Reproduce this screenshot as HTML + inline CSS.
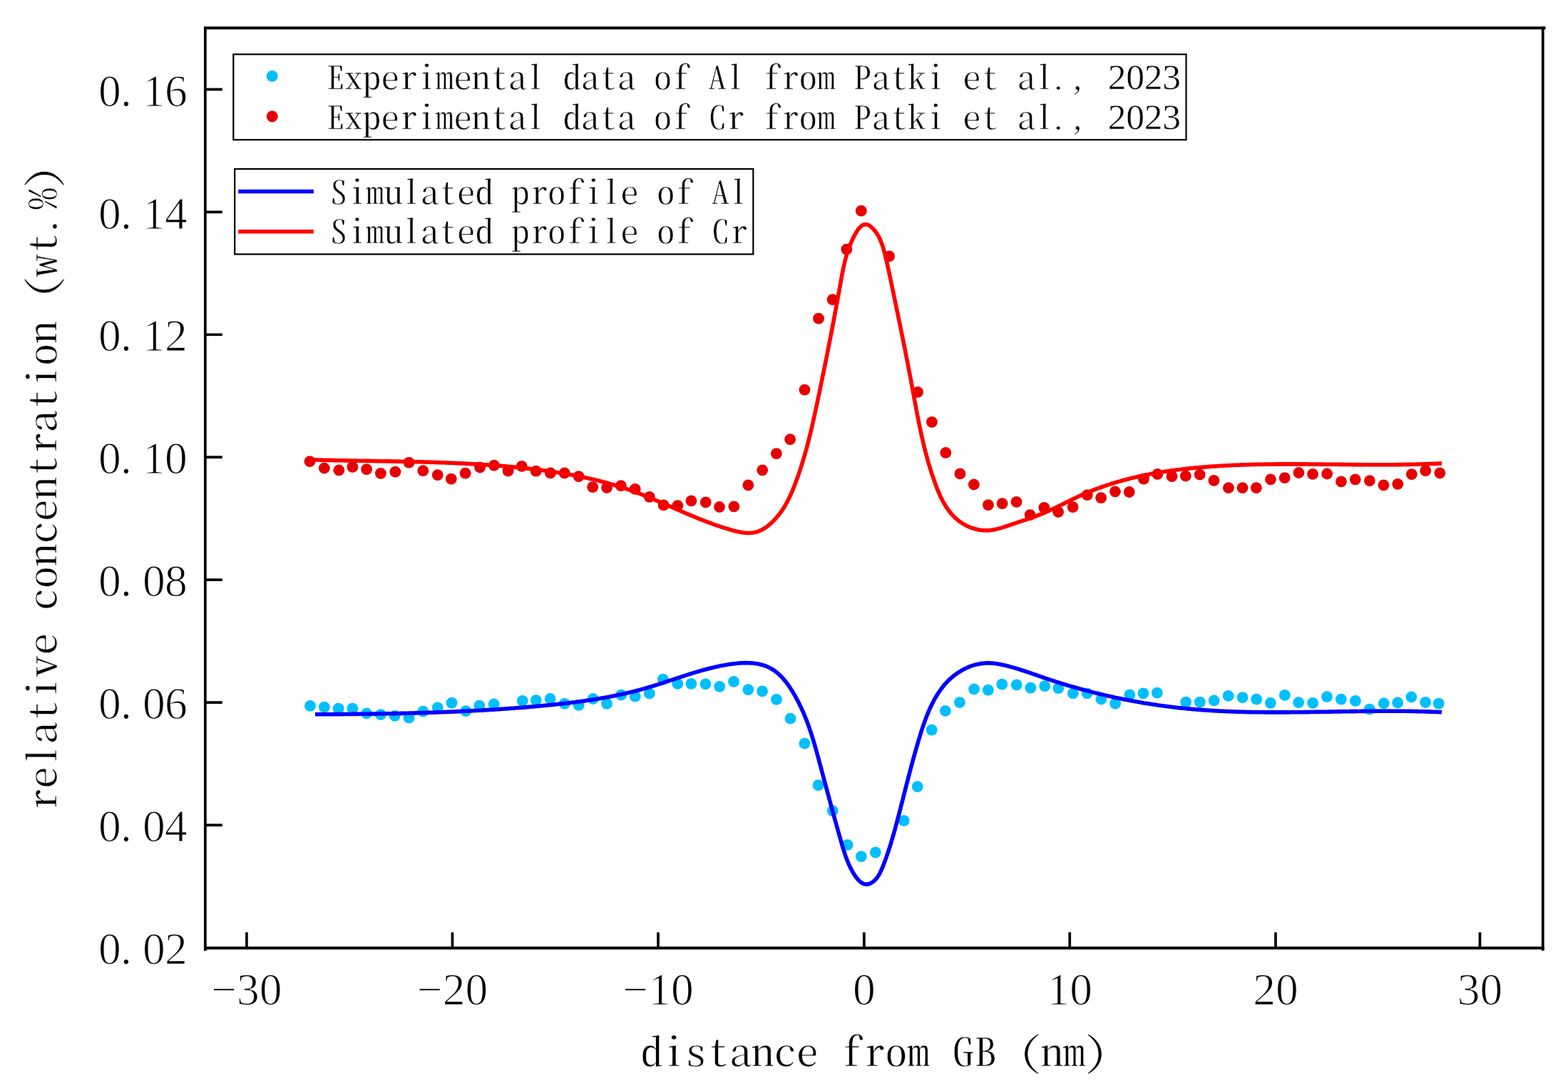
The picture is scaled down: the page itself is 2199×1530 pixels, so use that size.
<!DOCTYPE html><html><head><meta charset="utf-8"><title>relative concentration vs distance from GB</title><style>html,body{margin:0;padding:0;background:#fff;overflow:hidden}svg{display:block}.cj{font-family:"Noto Serif CJK SC","Liberation Serif",serif;font-feature-settings:"hwid" 1;}.ls{font-family:"Liberation Serif","Noto Serif CJK SC",serif;}.er{stroke:#fff;stroke-width:1.2px;}.er2{stroke:#fff;stroke-width:0.5px;}</style></head><body>
<svg width="2199" height="1530" viewBox="0 0 2199 1530">
<rect width="2199" height="1530" fill="#fff"/>
<g fill="#e60000"><circle cx="434.5" cy="647.2" r="7.9"/><circle cx="454.8" cy="656.5" r="7.9"/><circle cx="475.3" cy="659.3" r="7.9"/><circle cx="494.4" cy="654.8" r="7.9"/><circle cx="514.1" cy="658.2" r="7.9"/><circle cx="533.9" cy="663.9" r="7.9"/><circle cx="554.4" cy="661.6" r="7.9"/><circle cx="573.5" cy="648.6" r="7.9"/><circle cx="593.3" cy="660.2" r="7.9"/><circle cx="613.7" cy="666.1" r="7.9"/><circle cx="632.8" cy="671.6" r="7.9"/><circle cx="652.6" cy="663.7" r="7.9"/><circle cx="673.1" cy="655.5" r="7.9"/><circle cx="692.9" cy="652.7" r="7.9"/><circle cx="712.6" cy="660.5" r="7.9"/><circle cx="731.7" cy="653.9" r="7.9"/><circle cx="751.6" cy="660.7" r="7.9"/><circle cx="771.9" cy="663.4" r="7.9"/><circle cx="791.7" cy="663.4" r="7.9"/><circle cx="811.6" cy="668.2" r="7.9"/><circle cx="831.2" cy="683.2" r="7.9"/><circle cx="851.0" cy="683.9" r="7.9"/><circle cx="870.8" cy="681.2" r="7.9"/><circle cx="890.7" cy="685.9" r="7.9"/><circle cx="910.8" cy="696.8" r="7.9"/><circle cx="930.6" cy="708.4" r="7.9"/><circle cx="950.3" cy="709.1" r="7.9"/><circle cx="969.4" cy="702.3" r="7.9"/><circle cx="989.7" cy="704.4" r="7.9"/><circle cx="1009.0" cy="711.0" r="7.9"/><circle cx="1029.3" cy="710.3" r="7.9"/><circle cx="1049.3" cy="680.3" r="7.9"/><circle cx="1069.2" cy="659.3" r="7.9"/><circle cx="1088.8" cy="636.2" r="7.9"/><circle cx="1108.1" cy="616.2" r="7.9"/><circle cx="1128.4" cy="546.7" r="7.9"/><circle cx="1148.0" cy="446.7" r="7.9"/><circle cx="1167.6" cy="420.2" r="7.9"/><circle cx="1187.3" cy="349.6" r="7.9"/><circle cx="1207.8" cy="295.7" r="7.9"/><circle cx="1247.1" cy="359.4" r="7.9"/><circle cx="1287.0" cy="549.8" r="7.9"/><circle cx="1306.9" cy="591.8" r="7.9"/><circle cx="1326.3" cy="634.9" r="7.9"/><circle cx="1346.4" cy="664.4" r="7.9"/><circle cx="1365.8" cy="679.5" r="7.9"/><circle cx="1385.9" cy="708.2" r="7.9"/><circle cx="1405.6" cy="706.1" r="7.9"/><circle cx="1425.5" cy="703.8" r="7.9"/><circle cx="1444.6" cy="722.1" r="7.9"/><circle cx="1464.3" cy="711.9" r="7.9"/><circle cx="1484.1" cy="718.0" r="7.9"/><circle cx="1504.6" cy="711.2" r="7.9"/><circle cx="1524.8" cy="694.1" r="7.9"/><circle cx="1544.1" cy="698.2" r="7.9"/><circle cx="1563.9" cy="689.3" r="7.9"/><circle cx="1583.7" cy="690.0" r="7.9"/><circle cx="1603.9" cy="671.6" r="7.9"/><circle cx="1623.3" cy="664.8" r="7.9"/><circle cx="1643.5" cy="668.2" r="7.9"/><circle cx="1662.8" cy="667.5" r="7.9"/><circle cx="1682.6" cy="665.5" r="7.9"/><circle cx="1702.4" cy="673.9" r="7.9"/><circle cx="1722.9" cy="684.2" r="7.9"/><circle cx="1742.5" cy="684.2" r="7.9"/><circle cx="1761.8" cy="684.2" r="7.9"/><circle cx="1781.9" cy="672.3" r="7.9"/><circle cx="1801.7" cy="670.2" r="7.9"/><circle cx="1821.4" cy="663.0" r="7.9"/><circle cx="1841.0" cy="664.8" r="7.9"/><circle cx="1861.1" cy="664.5" r="7.9"/><circle cx="1880.9" cy="675.3" r="7.9"/><circle cx="1900.7" cy="672.3" r="7.9"/><circle cx="1920.8" cy="674.1" r="7.9"/><circle cx="1940.4" cy="680.3" r="7.9"/><circle cx="1960.2" cy="678.8" r="7.9"/><circle cx="1979.8" cy="665.1" r="7.9"/><circle cx="1999.2" cy="660.2" r="7.9"/><circle cx="2019.3" cy="663.3" r="7.9"/></g>
<g fill="#00bfff"><circle cx="435.0" cy="989.8" r="7.9"/><circle cx="454.8" cy="991.6" r="7.9"/><circle cx="474.6" cy="993.7" r="7.9"/><circle cx="494.4" cy="993.7" r="7.9"/><circle cx="514.1" cy="1000.5" r="7.9"/><circle cx="533.9" cy="1002.1" r="7.9"/><circle cx="553.7" cy="1003.9" r="7.9"/><circle cx="573.5" cy="1006.6" r="7.9"/><circle cx="593.3" cy="997.7" r="7.9"/><circle cx="613.7" cy="992.3" r="7.9"/><circle cx="633.5" cy="985.7" r="7.9"/><circle cx="653.3" cy="997.1" r="7.9"/><circle cx="672.4" cy="989.6" r="7.9"/><circle cx="692.6" cy="987.5" r="7.9"/><circle cx="732.7" cy="982.8" r="7.9"/><circle cx="751.8" cy="982.1" r="7.9"/><circle cx="771.6" cy="980.0" r="7.9"/><circle cx="791.7" cy="986.8" r="7.9"/><circle cx="811.6" cy="988.9" r="7.9"/><circle cx="831.7" cy="980.0" r="7.9"/><circle cx="851.0" cy="986.8" r="7.9"/><circle cx="871.2" cy="974.6" r="7.9"/><circle cx="890.7" cy="976.6" r="7.9"/><circle cx="910.8" cy="972.5" r="7.9"/><circle cx="929.9" cy="952.7" r="7.9"/><circle cx="950.3" cy="958.9" r="7.9"/><circle cx="969.4" cy="958.9" r="7.9"/><circle cx="989.5" cy="959.3" r="7.9"/><circle cx="1009.2" cy="962.8" r="7.9"/><circle cx="1029.0" cy="955.9" r="7.9"/><circle cx="1049.3" cy="967.1" r="7.9"/><circle cx="1069.1" cy="969.3" r="7.9"/><circle cx="1089.0" cy="980.8" r="7.9"/><circle cx="1108.5" cy="1007.7" r="7.9"/><circle cx="1128.4" cy="1042.6" r="7.9"/><circle cx="1147.5" cy="1101.2" r="7.9"/><circle cx="1167.7" cy="1137.1" r="7.9"/><circle cx="1188.6" cy="1184.8" r="7.9"/><circle cx="1207.8" cy="1201.2" r="7.9"/><circle cx="1227.8" cy="1195.3" r="7.9"/><circle cx="1267.7" cy="1150.8" r="7.9"/><circle cx="1286.7" cy="1103.1" r="7.9"/><circle cx="1306.6" cy="1023.6" r="7.9"/><circle cx="1325.8" cy="996.9" r="7.9"/><circle cx="1345.9" cy="985.1" r="7.9"/><circle cx="1366.1" cy="966.5" r="7.9"/><circle cx="1385.8" cy="967.7" r="7.9"/><circle cx="1405.2" cy="959.7" r="7.9"/><circle cx="1425.7" cy="960.3" r="7.9"/><circle cx="1445.3" cy="964.7" r="7.9"/><circle cx="1465.2" cy="962.1" r="7.9"/><circle cx="1484.3" cy="965.2" r="7.9"/><circle cx="1504.8" cy="972.3" r="7.9"/><circle cx="1524.6" cy="972.3" r="7.9"/><circle cx="1544.4" cy="980.5" r="7.9"/><circle cx="1564.1" cy="986.6" r="7.9"/><circle cx="1584.3" cy="974.3" r="7.9"/><circle cx="1603.4" cy="972.3" r="7.9"/><circle cx="1622.8" cy="971.6" r="7.9"/><circle cx="1663.1" cy="984.6" r="7.9"/><circle cx="1682.8" cy="984.6" r="7.9"/><circle cx="1702.6" cy="982.5" r="7.9"/><circle cx="1722.6" cy="975.9" r="7.9"/><circle cx="1742.6" cy="978.1" r="7.9"/><circle cx="1762.2" cy="980.7" r="7.9"/><circle cx="1781.8" cy="985.8" r="7.9"/><circle cx="1801.8" cy="974.9" r="7.9"/><circle cx="1821.1" cy="985.1" r="7.9"/><circle cx="1841.1" cy="985.8" r="7.9"/><circle cx="1860.9" cy="977.1" r="7.9"/><circle cx="1880.8" cy="980.7" r="7.9"/><circle cx="1900.9" cy="982.9" r="7.9"/><circle cx="1920.8" cy="994.6" r="7.9"/><circle cx="1940.7" cy="986.3" r="7.9"/><circle cx="1960.1" cy="985.4" r="7.9"/><circle cx="1979.3" cy="977.5" r="7.9"/><circle cx="1999.1" cy="984.8" r="7.9"/><circle cx="2017.6" cy="986.6" r="7.9"/></g>
<path d="M440.9,644.9 L442.9,644.9 L445.0,645.0 L447.0,645.0 L449.0,645.1 L451.0,645.1 L453.0,645.2 L455.0,645.2 L457.0,645.3 L459.0,645.3 L461.0,645.4 L463.0,645.4 L465.0,645.5 L467.0,645.5 L469.0,645.6 L471.0,645.6 L473.0,645.7 L475.0,645.7 L477.0,645.7 L479.1,645.8 L481.1,645.8 L483.1,645.9 L485.1,645.9 L487.1,645.9 L489.1,646.0 L491.1,646.0 L493.1,646.0 L495.1,646.1 L497.1,646.1 L499.1,646.1 L501.1,646.2 L503.1,646.2 L505.1,646.2 L507.1,646.3 L509.1,646.3 L511.1,646.3 L513.1,646.4 L515.1,646.4 L517.1,646.4 L519.1,646.5 L521.1,646.5 L523.1,646.5 L525.1,646.6 L527.1,646.6 L529.1,646.6 L531.1,646.7 L533.1,646.7 L535.1,646.7 L537.1,646.8 L539.2,646.8 L541.2,646.8 L543.2,646.9 L545.2,646.9 L547.2,646.9 L549.2,647.0 L551.2,647.0 L553.2,647.0 L555.2,647.1 L557.2,647.1 L559.2,647.1 L561.2,647.2 L563.2,647.2 L565.2,647.3 L567.2,647.3 L569.2,647.3 L571.2,647.4 L573.2,647.4 L575.2,647.5 L577.2,647.5 L579.2,647.6 L581.2,647.6 L583.2,647.7 L585.2,647.7 L587.2,647.7 L589.2,647.8 L591.2,647.8 L593.2,647.9 L595.2,648.0 L597.2,648.0 L599.2,648.1 L601.2,648.1 L603.2,648.2 L605.2,648.2 L607.2,648.3 L609.2,648.4 L611.2,648.4 L613.2,648.5 L615.2,648.6 L617.2,648.6 L619.2,648.7 L621.2,648.8 L623.1,648.8 L625.1,648.9 L627.1,649.0 L629.1,649.1 L631.1,649.1 L633.1,649.2 L635.1,649.3 L637.1,649.4 L639.1,649.5 L641.1,649.6 L643.1,649.7 L645.1,649.8 L647.1,649.8 L649.1,649.9 L651.1,650.0 L653.1,650.1 L655.1,650.2 L657.1,650.3 L659.1,650.5 L661.1,650.6 L663.1,650.7 L665.1,650.8 L667.1,650.9 L669.1,651.0 L671.1,651.1 L673.1,651.3 L675.1,651.4 L677.1,651.5 L679.1,651.7 L681.1,651.8 L683.1,651.9 L685.1,652.1 L687.0,652.2 L689.0,652.3 L691.0,652.5 L693.0,652.6 L695.0,652.8 L697.0,652.9 L699.0,653.1 L701.0,653.3 L703.0,653.4 L705.0,653.6 L707.0,653.8 L709.0,653.9 L711.0,654.1 L713.0,654.3 L715.0,654.5 L717.0,654.6 L719.0,654.8 L721.0,655.0 L723.0,655.2 L725.0,655.4 L726.9,655.6 L728.9,655.8 L730.9,656.0 L732.9,656.2 L734.9,656.4 L736.9,656.7 L738.9,656.9 L740.9,657.1 L742.9,657.3 L744.9,657.6 L746.9,657.8 L748.9,658.0 L750.9,658.3 L752.9,658.5 L754.9,658.8 L756.9,659.0 L758.8,659.3 L760.8,659.6 L762.8,659.8 L764.8,660.1 L766.8,660.4 L768.8,660.6 L770.8,660.9 L772.8,661.2 L774.8,661.5 L776.7,661.8 L778.7,662.1 L780.7,662.4 L782.7,662.7 L784.7,663.0 L786.7,663.4 L788.6,663.7 L790.6,664.0 L792.6,664.4 L794.6,664.7 L796.6,665.1 L798.5,665.4 L800.5,665.8 L802.5,666.1 L804.5,666.5 L806.4,666.9 L808.4,667.3 L810.4,667.7 L812.3,668.0 L814.3,668.4 L816.3,668.9 L818.2,669.3 L820.2,669.7 L822.1,670.1 L824.1,670.5 L826.0,671.0 L828.0,671.4 L829.9,671.9 L831.9,672.3 L833.8,672.8 L835.8,673.3 L837.7,673.7 L839.7,674.2 L841.6,674.7 L843.5,675.2 L845.5,675.7 L847.4,676.2 L849.3,676.7 L851.3,677.3 L853.2,677.8 L855.1,678.3 L857.0,678.9 L859.0,679.4 L860.9,680.0 L862.8,680.6 L864.7,681.2 L866.6,681.7 L868.5,682.3 L870.4,682.9 L872.3,683.5 L874.2,684.2 L876.1,684.8 L878.0,685.4 L879.9,686.1 L881.8,686.7 L883.6,687.4 L885.5,688.0 L887.4,688.7 L889.3,689.4 L891.1,690.1 L893.0,690.8 L894.9,691.5 L896.7,692.2 L898.6,692.9 L900.5,693.7 L902.3,694.4 L904.2,695.1 L906.0,695.9 L907.9,696.6 L909.7,697.4 L911.6,698.1 L913.4,698.9 L915.2,699.7 L917.1,700.4 L918.9,701.2 L920.8,702.0 L922.6,702.8 L924.4,703.6 L926.3,704.4 L928.1,705.1 L930.0,705.9 L931.8,706.7 L933.6,707.5 L935.5,708.3 L937.3,709.1 L939.1,709.9 L941.0,710.7 L942.8,711.5 L944.6,712.3 L946.5,713.1 L948.3,713.9 L950.1,714.7 L952.0,715.5 L953.8,716.3 L955.7,717.1 L957.5,717.9 L959.3,718.7 L961.2,719.5 L963.0,720.3 L964.9,721.1 L966.7,721.9 L968.6,722.6 L970.4,723.4 L972.3,724.2 L974.1,724.9 L976.0,725.7 L977.8,726.5 L979.7,727.2 L981.5,728.0 L983.4,728.7 L985.3,729.4 L987.1,730.2 L989.0,730.9 L990.9,731.6 L992.8,732.3 L994.7,733.0 L996.5,733.7 L998.4,734.4 L1000.3,735.1 L1002.2,735.8 L1004.1,736.4 L1006.0,737.1 L1007.9,737.7 L1009.8,738.4 L1011.7,739.0 L1013.6,739.6 L1015.6,740.2 L1017.5,740.8 L1019.4,741.4 L1021.4,742.0 L1023.3,742.5 L1025.2,743.1 L1027.2,743.6 L1029.1,744.2 L1031.1,744.7 L1033.1,745.2 L1035.0,745.6 L1037.0,746.0 L1038.9,746.4 L1040.9,746.7 L1042.8,747.0 L1044.8,747.2 L1046.7,747.4 L1048.7,747.5 L1050.6,747.5 L1052.5,747.4 L1054.4,747.3 L1056.3,747.0 L1058.2,746.7 L1060.1,746.3 L1062.0,745.7 L1063.8,745.1 L1065.6,744.3 L1067.4,743.5 L1069.2,742.6 L1071.0,741.5 L1072.7,740.4 L1074.5,739.3 L1076.1,738.0 L1077.8,736.8 L1079.4,735.4 L1081.0,734.0 L1082.5,732.6 L1084.0,731.2 L1085.5,729.7 L1086.9,728.2 L1088.3,726.7 L1089.6,725.2 L1090.9,723.6 L1092.2,722.0 L1093.4,720.5 L1094.6,718.8 L1095.8,717.2 L1096.9,715.6 L1098.0,713.9 L1099.1,712.2 L1100.2,710.5 L1101.2,708.8 L1102.2,707.1 L1103.1,705.3 L1104.1,703.6 L1105.0,701.8 L1105.9,700.0 L1106.8,698.2 L1107.6,696.4 L1108.5,694.6 L1109.3,692.8 L1110.1,691.0 L1110.9,689.2 L1111.7,687.3 L1112.4,685.5 L1113.2,683.6 L1113.9,681.8 L1114.6,679.9 L1115.3,678.1 L1116.0,676.2 L1116.7,674.3 L1117.4,672.4 L1118.1,670.6 L1118.8,668.7 L1119.4,666.8 L1120.1,664.9 L1120.7,663.0 L1121.4,661.2 L1122.0,659.3 L1122.6,657.4 L1123.2,655.5 L1123.8,653.6 L1124.4,651.7 L1125.0,649.8 L1125.6,647.9 L1126.2,645.9 L1126.8,644.0 L1127.3,642.1 L1127.9,640.2 L1128.5,638.3 L1129.0,636.4 L1129.5,634.4 L1130.1,632.5 L1130.6,630.6 L1131.1,628.7 L1131.7,626.7 L1132.2,624.8 L1132.7,622.9 L1133.2,620.9 L1133.7,619.0 L1134.2,617.1 L1134.7,615.1 L1135.1,613.2 L1135.6,611.2 L1136.1,609.3 L1136.6,607.3 L1137.0,605.4 L1137.5,603.5 L1138.0,601.5 L1138.4,599.6 L1138.9,597.6 L1139.3,595.6 L1139.8,593.7 L1140.2,591.7 L1140.6,589.8 L1141.1,587.8 L1141.5,585.9 L1142.0,583.9 L1142.4,582.0 L1142.8,580.0 L1143.2,578.0 L1143.7,576.1 L1144.1,574.1 L1144.5,572.2 L1144.9,570.2 L1145.3,568.2 L1145.8,566.3 L1146.2,564.3 L1146.6,562.3 L1147.0,560.4 L1147.4,558.4 L1147.8,556.5 L1148.3,554.5 L1148.7,552.5 L1149.1,550.6 L1149.5,548.6 L1149.9,546.6 L1150.3,544.7 L1150.7,542.7 L1151.1,540.8 L1151.5,538.8 L1151.9,536.8 L1152.3,534.9 L1152.7,532.9 L1153.1,530.9 L1153.5,529.0 L1153.9,527.0 L1154.3,525.0 L1154.7,523.1 L1155.1,521.1 L1155.5,519.1 L1155.9,517.2 L1156.3,515.2 L1156.7,513.3 L1157.1,511.3 L1157.5,509.3 L1157.9,507.4 L1158.3,505.4 L1158.7,503.4 L1159.1,501.5 L1159.5,499.5 L1159.9,497.5 L1160.3,495.6 L1160.6,493.6 L1161.0,491.6 L1161.4,489.7 L1161.8,487.7 L1162.2,485.8 L1162.6,483.8 L1163.0,481.8 L1163.3,479.9 L1163.7,477.9 L1164.1,475.9 L1164.5,474.0 L1164.9,472.0 L1165.2,470.0 L1165.6,468.1 L1166.0,466.1 L1166.4,464.2 L1166.8,462.2 L1167.1,460.2 L1167.5,458.3 L1167.9,456.3 L1168.2,454.3 L1168.6,452.4 L1169.0,450.4 L1169.4,448.4 L1169.7,446.5 L1170.1,444.5 L1170.5,442.6 L1170.8,440.6 L1171.2,438.6 L1171.6,436.7 L1171.9,434.7 L1172.3,432.8 L1172.7,430.8 L1173.0,428.8 L1173.4,426.9 L1173.7,424.9 L1174.1,422.9 L1174.5,421.0 L1174.8,419.0 L1175.2,417.1 L1175.5,415.1 L1175.9,413.1 L1176.2,411.2 L1176.6,409.2 L1176.9,407.3 L1177.3,405.3 L1177.7,403.3 L1178.0,401.4 L1178.4,399.4 L1178.7,397.5 L1179.1,395.5 L1179.4,393.6 L1179.8,391.6 L1180.1,389.6 L1180.5,387.7 L1180.8,385.7 L1181.2,383.8 L1181.6,381.8 L1182.0,379.9 L1182.4,377.9 L1182.8,376.0 L1183.2,374.0 L1183.6,372.0 L1184.1,370.1 L1184.5,368.1 L1185.0,366.2 L1185.5,364.2 L1186.0,362.3 L1186.6,360.3 L1187.1,358.4 L1187.7,356.4 L1188.3,354.5 L1188.9,352.5 L1189.6,350.6 L1190.3,348.7 L1191.0,346.7 L1191.7,344.8 L1192.5,342.8 L1193.3,340.9 L1194.1,338.9 L1195.0,337.0 L1195.9,335.1 L1196.8,333.1 L1197.8,331.2 L1198.8,329.3 L1199.9,327.4 L1200.9,325.5 L1202.1,323.8 L1203.2,322.1 L1204.4,320.6 L1205.6,319.2 L1206.9,317.9 L1208.2,316.8 L1209.5,316.0 L1210.9,315.3 L1212.2,314.9 L1213.7,314.7 L1215.1,314.8 L1216.6,315.1 L1218.1,315.8 L1219.6,316.6 L1221.1,317.7 L1222.5,318.9 L1224.0,320.3 L1225.4,321.8 L1226.7,323.3 L1228.0,325.0 L1229.2,326.7 L1230.3,328.4 L1231.4,330.2 L1232.4,332.0 L1233.3,333.8 L1234.2,335.7 L1235.0,337.6 L1235.8,339.5 L1236.5,341.4 L1237.2,343.3 L1237.9,345.3 L1238.5,347.3 L1239.1,349.2 L1239.6,351.2 L1240.1,353.2 L1240.7,355.2 L1241.2,357.2 L1241.7,359.2 L1242.1,361.2 L1242.6,363.2 L1243.1,365.1 L1243.5,367.1 L1244.0,369.1 L1244.5,371.0 L1244.9,373.0 L1245.3,375.0 L1245.8,376.9 L1246.2,378.9 L1246.6,380.8 L1247.0,382.8 L1247.5,384.7 L1247.9,386.7 L1248.3,388.6 L1248.7,390.5 L1249.1,392.5 L1249.5,394.4 L1249.9,396.4 L1250.3,398.3 L1250.7,400.2 L1251.1,402.2 L1251.5,404.1 L1251.9,406.1 L1252.3,408.0 L1252.7,410.0 L1253.1,411.9 L1253.5,413.9 L1253.9,415.8 L1254.3,417.8 L1254.7,419.7 L1255.1,421.7 L1255.5,423.6 L1255.9,425.6 L1256.3,427.5 L1256.8,429.5 L1257.2,431.4 L1257.6,433.4 L1258.0,435.3 L1258.4,437.3 L1258.8,439.2 L1259.2,441.2 L1259.6,443.2 L1260.0,445.1 L1260.4,447.1 L1260.8,449.0 L1261.2,451.0 L1261.6,453.0 L1262.0,454.9 L1262.4,456.9 L1262.8,458.8 L1263.2,460.8 L1263.6,462.8 L1264.0,464.7 L1264.4,466.7 L1264.8,468.7 L1265.2,470.6 L1265.6,472.6 L1266.0,474.6 L1266.4,476.5 L1266.8,478.5 L1267.2,480.5 L1267.6,482.4 L1268.0,484.4 L1268.4,486.4 L1268.8,488.3 L1269.2,490.3 L1269.6,492.3 L1269.9,494.2 L1270.3,496.2 L1270.7,498.2 L1271.1,500.2 L1271.5,502.1 L1271.9,504.1 L1272.3,506.1 L1272.7,508.0 L1273.0,510.0 L1273.4,512.0 L1273.8,514.0 L1274.2,515.9 L1274.6,517.9 L1274.9,519.9 L1275.3,521.8 L1275.7,523.8 L1276.1,525.8 L1276.4,527.7 L1276.8,529.7 L1277.2,531.7 L1277.6,533.7 L1277.9,535.6 L1278.3,537.6 L1278.7,539.6 L1279.0,541.5 L1279.4,543.5 L1279.7,545.5 L1280.1,547.4 L1280.5,549.4 L1280.8,551.4 L1281.2,553.3 L1281.6,555.3 L1281.9,557.3 L1282.3,559.2 L1282.6,561.2 L1283.0,563.2 L1283.4,565.1 L1283.7,567.1 L1284.1,569.1 L1284.5,571.0 L1284.8,573.0 L1285.2,575.0 L1285.6,576.9 L1285.9,578.9 L1286.3,580.8 L1286.7,582.8 L1287.1,584.8 L1287.5,586.7 L1287.9,588.7 L1288.2,590.6 L1288.6,592.6 L1289.0,594.5 L1289.4,596.5 L1289.8,598.5 L1290.2,600.4 L1290.7,602.4 L1291.1,604.3 L1291.5,606.3 L1291.9,608.2 L1292.3,610.2 L1292.8,612.1 L1293.2,614.1 L1293.7,616.0 L1294.1,617.9 L1294.6,619.9 L1295.0,621.8 L1295.5,623.8 L1295.9,625.7 L1296.4,627.7 L1296.9,629.6 L1297.4,631.5 L1297.9,633.5 L1298.4,635.4 L1298.9,637.3 L1299.4,639.3 L1299.9,641.2 L1300.5,643.1 L1301.0,645.1 L1301.5,647.0 L1302.1,648.9 L1302.6,650.8 L1303.2,652.8 L1303.8,654.7 L1304.4,656.6 L1305.0,658.5 L1305.6,660.4 L1306.2,662.4 L1306.8,664.3 L1307.4,666.2 L1308.1,668.1 L1308.7,670.0 L1309.4,671.9 L1310.0,673.8 L1310.7,675.7 L1311.4,677.6 L1312.1,679.5 L1312.8,681.4 L1313.5,683.3 L1314.3,685.2 L1315.0,687.1 L1315.8,689.0 L1316.6,690.8 L1317.4,692.7 L1318.2,694.5 L1319.0,696.4 L1319.9,698.2 L1320.8,700.0 L1321.7,701.8 L1322.6,703.5 L1323.6,705.3 L1324.6,707.0 L1325.6,708.7 L1326.6,710.4 L1327.7,712.0 L1328.8,713.6 L1330.0,715.2 L1331.1,716.8 L1332.3,718.4 L1333.6,719.9 L1334.9,721.3 L1336.2,722.8 L1337.6,724.2 L1339.0,725.6 L1340.4,726.9 L1341.9,728.2 L1343.4,729.5 L1345.0,730.7 L1346.6,731.9 L1348.3,733.0 L1350.0,734.1 L1351.7,735.1 L1353.5,736.1 L1355.3,737.1 L1357.1,738.0 L1359.0,738.8 L1360.9,739.6 L1362.8,740.3 L1364.7,740.9 L1366.7,741.5 L1368.6,742.1 L1370.6,742.5 L1372.6,742.9 L1374.6,743.3 L1376.6,743.5 L1378.6,743.7 L1380.5,743.8 L1382.5,743.9 L1384.5,743.9 L1386.5,743.8 L1388.5,743.6 L1390.4,743.3 L1392.4,743.1 L1394.4,742.7 L1396.3,742.3 L1398.3,741.9 L1400.2,741.4 L1402.2,740.9 L1404.1,740.3 L1406.0,739.7 L1408.0,739.1 L1409.9,738.5 L1411.8,737.8 L1413.7,737.2 L1415.7,736.5 L1417.6,735.9 L1419.5,735.2 L1421.4,734.6 L1423.3,733.9 L1425.2,733.3 L1427.1,732.6 L1429.0,732.0 L1430.9,731.4 L1432.8,730.8 L1434.7,730.1 L1436.6,729.5 L1438.4,728.9 L1440.3,728.2 L1442.2,727.6 L1444.1,726.9 L1445.9,726.3 L1447.8,725.6 L1449.6,725.0 L1451.5,724.3 L1453.4,723.6 L1455.2,722.9 L1457.0,722.2 L1458.9,721.5 L1460.7,720.7 L1462.6,720.0 L1464.4,719.2 L1466.2,718.4 L1468.0,717.6 L1469.9,716.8 L1471.7,716.0 L1473.5,715.1 L1475.3,714.3 L1477.1,713.4 L1479.0,712.6 L1480.8,711.7 L1482.6,710.8 L1484.4,709.9 L1486.2,709.1 L1488.0,708.2 L1489.8,707.3 L1491.6,706.4 L1493.4,705.5 L1495.2,704.6 L1497.0,703.7 L1498.9,702.8 L1500.7,701.9 L1502.5,701.0 L1504.3,700.1 L1506.1,699.3 L1507.9,698.4 L1509.8,697.5 L1511.6,696.7 L1513.4,695.8 L1515.2,695.0 L1517.1,694.1 L1518.9,693.3 L1520.8,692.5 L1522.6,691.7 L1524.4,690.9 L1526.3,690.2 L1528.2,689.4 L1530.0,688.7 L1531.9,687.9 L1533.7,687.2 L1535.6,686.5 L1537.5,685.7 L1539.3,685.0 L1541.2,684.4 L1543.1,683.7 L1545.0,683.0 L1546.9,682.3 L1548.7,681.7 L1550.6,681.0 L1552.5,680.4 L1554.4,679.8 L1556.3,679.2 L1558.2,678.5 L1560.1,678.0 L1562.0,677.4 L1563.9,676.8 L1565.9,676.2 L1567.8,675.6 L1569.7,675.1 L1571.6,674.6 L1573.5,674.0 L1575.4,673.5 L1577.4,673.0 L1579.3,672.5 L1581.2,672.0 L1583.2,671.5 L1585.1,671.0 L1587.0,670.5 L1589.0,670.0 L1590.9,669.6 L1592.9,669.1 L1594.8,668.7 L1596.7,668.2 L1598.7,667.8 L1600.6,667.4 L1602.6,667.0 L1604.5,666.5 L1606.5,666.1 L1608.5,665.7 L1610.4,665.4 L1612.4,665.0 L1614.3,664.6 L1616.3,664.2 L1618.3,663.9 L1620.2,663.5 L1622.2,663.2 L1624.2,662.8 L1626.1,662.5 L1628.1,662.2 L1630.1,661.9 L1632.1,661.6 L1634.0,661.2 L1636.0,660.9 L1638.0,660.7 L1640.0,660.4 L1642.0,660.1 L1643.9,659.8 L1645.9,659.5 L1647.9,659.3 L1649.9,659.0 L1651.9,658.8 L1653.9,658.5 L1655.8,658.3 L1657.8,658.0 L1659.8,657.8 L1661.8,657.6 L1663.8,657.3 L1665.8,657.1 L1667.8,656.9 L1669.8,656.7 L1671.8,656.5 L1673.8,656.3 L1675.8,656.1 L1677.8,655.9 L1679.8,655.7 L1681.7,655.6 L1683.7,655.4 L1685.7,655.2 L1687.7,655.0 L1689.7,654.9 L1691.7,654.7 L1693.7,654.6 L1695.7,654.4 L1697.7,654.3 L1699.7,654.1 L1701.7,654.0 L1703.7,653.9 L1705.7,653.7 L1707.7,653.6 L1709.7,653.5 L1711.7,653.3 L1713.7,653.2 L1715.7,653.1 L1717.7,653.0 L1719.7,652.9 L1721.7,652.8 L1723.7,652.7 L1725.7,652.6 L1727.7,652.5 L1729.7,652.4 L1731.7,652.3 L1733.7,652.2 L1735.7,652.2 L1737.7,652.1 L1739.7,652.0 L1741.7,651.9 L1743.7,651.9 L1745.7,651.8 L1747.7,651.7 L1749.7,651.7 L1751.7,651.6 L1753.7,651.5 L1755.7,651.5 L1757.7,651.4 L1759.7,651.4 L1761.7,651.3 L1763.7,651.3 L1765.7,651.3 L1767.7,651.2 L1769.7,651.2 L1771.7,651.2 L1773.7,651.1 L1775.7,651.1 L1777.7,651.1 L1779.7,651.0 L1781.7,651.0 L1783.7,651.0 L1785.7,651.0 L1787.7,651.0 L1789.7,650.9 L1791.7,650.9 L1793.7,650.9 L1795.7,650.9 L1797.7,650.9 L1799.7,650.9 L1801.7,650.9 L1803.7,650.9 L1805.7,650.9 L1807.7,650.9 L1809.7,650.9 L1811.7,650.9 L1813.7,650.9 L1815.7,650.9 L1817.7,650.9 L1819.7,650.9 L1821.7,650.9 L1823.7,650.9 L1825.8,650.9 L1827.8,650.9 L1829.8,650.9 L1831.8,650.9 L1833.8,651.0 L1835.8,651.0 L1837.8,651.0 L1839.8,651.0 L1841.8,651.0 L1843.8,651.0 L1845.8,651.0 L1847.8,651.1 L1849.8,651.1 L1851.8,651.1 L1853.8,651.1 L1855.8,651.1 L1857.8,651.2 L1859.8,651.2 L1861.8,651.2 L1863.8,651.2 L1865.8,651.2 L1867.8,651.3 L1869.8,651.3 L1871.8,651.3 L1873.8,651.3 L1875.8,651.3 L1877.8,651.4 L1879.8,651.4 L1881.8,651.4 L1883.8,651.4 L1885.8,651.5 L1887.9,651.5 L1889.9,651.5 L1891.9,651.5 L1893.9,651.5 L1895.9,651.5 L1897.9,651.6 L1899.9,651.6 L1901.9,651.6 L1903.9,651.6 L1905.9,651.6 L1907.9,651.6 L1909.9,651.7 L1911.9,651.7 L1913.9,651.7 L1915.9,651.7 L1917.9,651.7 L1919.9,651.7 L1921.9,651.7 L1923.9,651.7 L1925.9,651.7 L1927.9,651.7 L1929.9,651.7 L1931.9,651.7 L1933.9,651.7 L1935.9,651.7 L1937.9,651.7 L1939.9,651.7 L1941.9,651.7 L1943.9,651.7 L1945.9,651.7 L1947.9,651.7 L1949.9,651.7 L1951.9,651.7 L1953.9,651.7 L1955.9,651.6 L1958.0,651.6 L1960.0,651.6 L1962.0,651.6 L1964.0,651.6 L1966.0,651.5 L1968.0,651.5 L1970.0,651.5 L1972.0,651.4 L1974.0,651.4 L1976.0,651.4 L1978.0,651.3 L1980.0,651.3 L1982.0,651.2 L1984.0,651.2 L1986.0,651.1 L1988.0,651.1 L1990.0,651.0 L1992.0,651.0 L1994.0,650.9 L1996.0,650.8 L1998.0,650.8 L2000.0,650.7 L2002.0,650.6 L2004.0,650.6 L2006.0,650.5 L2008.0,650.4 L2010.0,650.3 L2012.0,650.2 L2014.0,650.2 L2016.0,650.1 L2018.0,650.0 L2020.0,649.9 L2022.0,649.8" fill="none" stroke="#f00" stroke-width="5.6" stroke-linejoin="round"/>
<path d="M441.9,1001.8 L443.9,1001.8 L445.9,1001.8 L447.9,1001.8 L450.0,1001.7 L452.0,1001.7 L454.0,1001.7 L456.0,1001.7 L458.0,1001.7 L460.0,1001.7 L462.0,1001.7 L464.0,1001.7 L466.0,1001.7 L468.0,1001.6 L470.0,1001.6 L472.0,1001.6 L474.0,1001.6 L476.1,1001.6 L478.1,1001.6 L480.1,1001.6 L482.1,1001.5 L484.1,1001.5 L486.1,1001.5 L488.1,1001.5 L490.1,1001.5 L492.1,1001.5 L494.1,1001.4 L496.1,1001.4 L498.1,1001.4 L500.1,1001.4 L502.1,1001.4 L504.1,1001.3 L506.1,1001.3 L508.1,1001.3 L510.1,1001.3 L512.1,1001.3 L514.1,1001.2 L516.1,1001.2 L518.2,1001.2 L520.2,1001.1 L522.2,1001.1 L524.2,1001.1 L526.2,1001.1 L528.2,1001.0 L530.2,1001.0 L532.2,1001.0 L534.2,1000.9 L536.2,1000.9 L538.2,1000.9 L540.2,1000.8 L542.2,1000.8 L544.2,1000.8 L546.2,1000.7 L548.2,1000.7 L550.2,1000.7 L552.2,1000.6 L554.2,1000.6 L556.2,1000.5 L558.2,1000.5 L560.2,1000.5 L562.2,1000.4 L564.2,1000.4 L566.2,1000.3 L568.2,1000.3 L570.2,1000.2 L572.2,1000.2 L574.2,1000.1 L576.2,1000.1 L578.2,1000.0 L580.2,1000.0 L582.2,999.9 L584.2,999.9 L586.2,999.8 L588.2,999.8 L590.2,999.7 L592.2,999.6 L594.2,999.6 L596.2,999.5 L598.2,999.5 L600.2,999.4 L602.2,999.3 L604.2,999.3 L606.2,999.2 L608.2,999.1 L610.2,999.1 L612.2,999.0 L614.2,998.9 L616.2,998.8 L618.2,998.8 L620.2,998.7 L622.2,998.6 L624.2,998.5 L626.2,998.5 L628.2,998.4 L630.2,998.3 L632.2,998.2 L634.2,998.1 L636.2,998.1 L638.1,998.0 L640.1,997.9 L642.1,997.8 L644.1,997.7 L646.1,997.6 L648.1,997.5 L650.1,997.4 L652.1,997.3 L654.1,997.2 L656.1,997.1 L658.1,997.0 L660.1,996.9 L662.1,996.8 L664.1,996.7 L666.1,996.6 L668.1,996.5 L670.1,996.4 L672.1,996.3 L674.1,996.2 L676.1,996.1 L678.1,995.9 L680.1,995.8 L682.1,995.7 L684.1,995.6 L686.1,995.5 L688.1,995.3 L690.1,995.2 L692.1,995.1 L694.1,995.0 L696.1,994.8 L698.1,994.7 L700.1,994.6 L702.1,994.4 L704.1,994.3 L706.1,994.2 L708.1,994.0 L710.0,993.9 L712.0,993.7 L714.0,993.6 L716.0,993.4 L718.0,993.3 L720.0,993.2 L722.0,993.0 L724.0,992.8 L726.0,992.7 L728.0,992.5 L730.0,992.4 L732.0,992.2 L734.0,992.1 L736.0,991.9 L738.0,991.7 L740.0,991.6 L742.0,991.4 L744.0,991.2 L746.0,991.0 L748.0,990.9 L750.0,990.7 L752.0,990.5 L754.0,990.3 L756.0,990.1 L758.0,990.0 L760.0,989.8 L762.0,989.6 L764.0,989.4 L766.0,989.2 L768.0,989.0 L770.0,988.8 L772.0,988.6 L774.0,988.4 L776.0,988.2 L778.0,988.0 L780.0,987.8 L781.9,987.6 L783.9,987.3 L785.9,987.1 L787.9,986.9 L789.9,986.7 L791.9,986.4 L793.9,986.2 L795.9,986.0 L797.9,985.7 L799.9,985.5 L801.9,985.3 L803.9,985.0 L805.9,984.8 L807.9,984.5 L809.9,984.2 L811.8,984.0 L813.8,983.7 L815.8,983.4 L817.8,983.2 L819.8,982.9 L821.8,982.6 L823.8,982.3 L825.7,982.0 L827.7,981.7 L829.7,981.4 L831.7,981.1 L833.7,980.8 L835.6,980.5 L837.6,980.1 L839.6,979.8 L841.6,979.5 L843.5,979.1 L845.5,978.8 L847.5,978.4 L849.5,978.1 L851.4,977.7 L853.4,977.4 L855.3,977.0 L857.3,976.6 L859.3,976.2 L861.2,975.8 L863.2,975.4 L865.1,975.0 L867.1,974.6 L869.1,974.2 L871.0,973.8 L873.0,973.4 L874.9,972.9 L876.9,972.5 L878.8,972.0 L880.7,971.6 L882.7,971.1 L884.6,970.7 L886.6,970.2 L888.5,969.7 L890.4,969.2 L892.4,968.7 L894.3,968.2 L896.2,967.7 L898.1,967.2 L900.1,966.7 L902.0,966.1 L903.9,965.6 L905.8,965.0 L907.7,964.5 L909.6,963.9 L911.6,963.3 L913.5,962.8 L915.4,962.2 L917.3,961.6 L919.2,961.0 L921.1,960.4 L923.0,959.8 L924.9,959.2 L926.8,958.6 L928.7,958.0 L930.6,957.3 L932.5,956.7 L934.4,956.1 L936.3,955.5 L938.2,954.8 L940.1,954.2 L942.0,953.6 L943.9,952.9 L945.7,952.3 L947.6,951.7 L949.5,951.1 L951.4,950.4 L953.3,949.8 L955.2,949.2 L957.2,948.6 L959.1,947.9 L961.0,947.3 L962.9,946.7 L964.8,946.1 L966.7,945.5 L968.6,944.9 L970.5,944.3 L972.4,943.7 L974.4,943.1 L976.3,942.5 L978.2,942.0 L980.1,941.4 L982.1,940.9 L984.0,940.3 L985.9,939.8 L987.9,939.2 L989.8,938.7 L991.8,938.2 L993.7,937.7 L995.7,937.2 L997.6,936.7 L999.6,936.2 L1001.6,935.8 L1003.5,935.3 L1005.5,934.9 L1007.5,934.4 L1009.5,934.0 L1011.5,933.6 L1013.5,933.2 L1015.5,932.9 L1017.5,932.5 L1019.5,932.2 L1021.5,931.8 L1023.5,931.5 L1025.6,931.2 L1027.6,930.9 L1029.6,930.7 L1031.7,930.5 L1033.7,930.2 L1035.7,930.1 L1037.7,929.9 L1039.7,929.8 L1041.7,929.7 L1043.7,929.6 L1045.7,929.6 L1047.7,929.6 L1049.7,929.7 L1051.7,929.8 L1053.6,929.9 L1055.6,930.0 L1057.5,930.2 L1059.4,930.5 L1061.3,930.8 L1063.2,931.1 L1065.1,931.5 L1066.9,931.9 L1068.8,932.4 L1070.6,933.0 L1072.4,933.5 L1074.1,934.2 L1075.9,934.9 L1077.6,935.7 L1079.3,936.5 L1081.0,937.4 L1082.6,938.3 L1084.2,939.3 L1085.8,940.4 L1087.4,941.5 L1088.9,942.7 L1090.4,943.9 L1091.9,945.2 L1093.4,946.6 L1094.8,948.0 L1096.2,949.4 L1097.6,950.9 L1098.9,952.4 L1100.2,954.0 L1101.5,955.6 L1102.8,957.2 L1104.1,958.8 L1105.3,960.5 L1106.5,962.2 L1107.7,964.0 L1108.8,965.7 L1110.0,967.5 L1111.1,969.3 L1112.2,971.1 L1113.3,972.9 L1114.3,974.7 L1115.3,976.5 L1116.4,978.3 L1117.3,980.1 L1118.3,982.0 L1119.3,983.8 L1120.2,985.6 L1121.1,987.4 L1122.0,989.3 L1122.9,991.1 L1123.8,993.0 L1124.6,994.8 L1125.4,996.6 L1126.3,998.5 L1127.1,1000.3 L1127.8,1002.2 L1128.6,1004.0 L1129.4,1005.9 L1130.1,1007.7 L1130.8,1009.6 L1131.6,1011.5 L1132.3,1013.3 L1133.0,1015.2 L1133.6,1017.0 L1134.3,1018.9 L1135.0,1020.8 L1135.6,1022.7 L1136.2,1024.5 L1136.9,1026.4 L1137.5,1028.3 L1138.1,1030.2 L1138.7,1032.0 L1139.3,1033.9 L1139.9,1035.8 L1140.5,1037.7 L1141.0,1039.6 L1141.6,1041.5 L1142.1,1043.4 L1142.7,1045.3 L1143.2,1047.2 L1143.8,1049.1 L1144.3,1051.0 L1144.9,1052.9 L1145.4,1054.8 L1145.9,1056.7 L1146.4,1058.6 L1147.0,1060.5 L1147.5,1062.4 L1148.0,1064.3 L1148.5,1066.3 L1149.0,1068.2 L1149.5,1070.1 L1150.0,1072.0 L1150.6,1073.9 L1151.1,1075.9 L1151.6,1077.8 L1152.1,1079.7 L1152.6,1081.6 L1153.1,1083.6 L1153.7,1085.5 L1154.2,1087.4 L1154.7,1089.4 L1155.2,1091.3 L1155.7,1093.2 L1156.2,1095.2 L1156.8,1097.1 L1157.3,1099.1 L1157.8,1101.0 L1158.3,1102.9 L1158.8,1104.9 L1159.4,1106.8 L1159.9,1108.8 L1160.4,1110.7 L1160.9,1112.7 L1161.5,1114.6 L1162.0,1116.5 L1162.5,1118.5 L1163.0,1120.4 L1163.6,1122.4 L1164.1,1124.3 L1164.6,1126.3 L1165.1,1128.2 L1165.7,1130.2 L1166.2,1132.1 L1166.7,1134.0 L1167.2,1136.0 L1167.8,1137.9 L1168.3,1139.9 L1168.8,1141.8 L1169.4,1143.8 L1169.9,1145.7 L1170.4,1147.6 L1171.0,1149.6 L1171.5,1151.5 L1172.1,1153.5 L1172.6,1155.4 L1173.1,1157.3 L1173.7,1159.3 L1174.2,1161.2 L1174.8,1163.1 L1175.3,1165.1 L1175.8,1167.0 L1176.4,1168.9 L1176.9,1170.9 L1177.5,1172.8 L1178.0,1174.7 L1178.6,1176.6 L1179.1,1178.6 L1179.7,1180.5 L1180.2,1182.4 L1180.8,1184.3 L1181.4,1186.2 L1181.9,1188.2 L1182.5,1190.1 L1183.1,1192.0 L1183.7,1193.9 L1184.3,1195.8 L1184.9,1197.7 L1185.5,1199.6 L1186.2,1201.4 L1186.9,1203.3 L1187.6,1205.2 L1188.3,1207.1 L1189.1,1208.9 L1189.9,1210.8 L1190.7,1212.6 L1191.5,1214.5 L1192.4,1216.3 L1193.3,1218.2 L1194.3,1220.0 L1195.3,1221.8 L1196.3,1223.6 L1197.4,1225.4 L1198.6,1227.2 L1199.7,1228.9 L1200.9,1230.6 L1202.2,1232.2 L1203.5,1233.8 L1204.9,1235.2 L1206.3,1236.4 L1207.7,1237.6 L1209.2,1238.5 L1210.7,1239.3 L1212.3,1239.8 L1213.9,1240.1 L1215.6,1240.1 L1217.2,1239.9 L1218.9,1239.5 L1220.6,1238.8 L1222.2,1238.0 L1223.8,1237.0 L1225.3,1235.8 L1226.7,1234.6 L1228.0,1233.2 L1229.3,1231.7 L1230.5,1230.2 L1231.6,1228.5 L1232.7,1226.8 L1233.7,1225.0 L1234.6,1223.1 L1235.5,1221.2 L1236.4,1219.2 L1237.3,1217.3 L1238.1,1215.3 L1238.9,1213.3 L1239.6,1211.3 L1240.4,1209.3 L1241.1,1207.3 L1241.9,1205.3 L1242.6,1203.3 L1243.3,1201.4 L1244.0,1199.4 L1244.6,1197.4 L1245.3,1195.5 L1246.0,1193.5 L1246.6,1191.6 L1247.2,1189.6 L1247.9,1187.7 L1248.5,1185.7 L1249.1,1183.8 L1249.7,1181.9 L1250.2,1179.9 L1250.8,1178.0 L1251.4,1176.1 L1251.9,1174.1 L1252.5,1172.2 L1253.0,1170.3 L1253.6,1168.4 L1254.1,1166.5 L1254.7,1164.6 L1255.2,1162.6 L1255.7,1160.7 L1256.2,1158.8 L1256.7,1156.9 L1257.2,1155.0 L1257.8,1153.1 L1258.3,1151.2 L1258.8,1149.3 L1259.3,1147.3 L1259.8,1145.4 L1260.3,1143.5 L1260.8,1141.6 L1261.3,1139.7 L1261.8,1137.8 L1262.3,1135.9 L1262.7,1134.0 L1263.2,1132.1 L1263.7,1130.2 L1264.2,1128.3 L1264.7,1126.4 L1265.2,1124.4 L1265.7,1122.5 L1266.2,1120.6 L1266.7,1118.7 L1267.1,1116.8 L1267.6,1114.9 L1268.1,1113.0 L1268.6,1111.1 L1269.1,1109.2 L1269.6,1107.3 L1270.1,1105.3 L1270.5,1103.4 L1271.0,1101.5 L1271.5,1099.6 L1272.0,1097.7 L1272.5,1095.8 L1273.0,1093.9 L1273.5,1092.0 L1274.0,1090.0 L1274.5,1088.1 L1275.0,1086.2 L1275.5,1084.3 L1276.0,1082.4 L1276.5,1080.4 L1277.0,1078.5 L1277.5,1076.6 L1278.0,1074.7 L1278.5,1072.7 L1279.1,1070.8 L1279.6,1068.9 L1280.1,1067.0 L1280.6,1065.0 L1281.2,1063.1 L1281.7,1061.2 L1282.2,1059.2 L1282.8,1057.3 L1283.3,1055.4 L1283.9,1053.4 L1284.4,1051.5 L1285.0,1049.5 L1285.5,1047.6 L1286.1,1045.6 L1286.7,1043.7 L1287.2,1041.7 L1287.8,1039.8 L1288.4,1037.8 L1289.0,1035.9 L1289.6,1033.9 L1290.2,1032.0 L1290.8,1030.0 L1291.4,1028.1 L1292.0,1026.1 L1292.6,1024.2 L1293.2,1022.2 L1293.9,1020.3 L1294.5,1018.3 L1295.2,1016.4 L1295.9,1014.4 L1296.6,1012.5 L1297.3,1010.6 L1298.0,1008.7 L1298.7,1006.8 L1299.4,1004.9 L1300.2,1003.0 L1300.9,1001.1 L1301.7,999.2 L1302.5,997.4 L1303.3,995.5 L1304.1,993.7 L1304.9,991.8 L1305.8,990.0 L1306.7,988.2 L1307.6,986.4 L1308.5,984.7 L1309.4,982.9 L1310.3,981.2 L1311.3,979.4 L1312.3,977.7 L1313.3,976.0 L1314.3,974.4 L1315.4,972.7 L1316.5,971.1 L1317.6,969.4 L1318.7,967.9 L1319.8,966.3 L1321.0,964.7 L1322.2,963.2 L1323.4,961.7 L1324.7,960.2 L1325.9,958.8 L1327.2,957.3 L1328.6,955.9 L1329.9,954.5 L1331.3,953.2 L1332.7,951.9 L1334.2,950.6 L1335.7,949.3 L1337.2,948.0 L1338.7,946.8 L1340.3,945.7 L1341.9,944.5 L1343.5,943.4 L1345.2,942.3 L1346.9,941.3 L1348.6,940.2 L1350.4,939.3 L1352.2,938.3 L1354.0,937.4 L1355.9,936.5 L1357.7,935.7 L1359.6,935.0 L1361.6,934.2 L1363.5,933.6 L1365.4,932.9 L1367.4,932.4 L1369.4,931.8 L1371.3,931.4 L1373.3,931.0 L1375.3,930.6 L1377.3,930.4 L1379.3,930.2 L1381.3,930.0 L1383.3,929.9 L1385.3,929.9 L1387.3,929.9 L1389.3,930.0 L1391.3,930.1 L1393.3,930.3 L1395.3,930.5 L1397.3,930.8 L1399.3,931.1 L1401.3,931.4 L1403.3,931.8 L1405.2,932.2 L1407.2,932.6 L1409.2,933.1 L1411.2,933.5 L1413.1,934.0 L1415.1,934.5 L1417.0,935.1 L1419.0,935.6 L1420.9,936.1 L1422.8,936.7 L1424.8,937.3 L1426.7,937.9 L1428.6,938.4 L1430.5,939.0 L1432.4,939.7 L1434.4,940.3 L1436.3,940.9 L1438.2,941.5 L1440.1,942.2 L1442.0,942.8 L1443.9,943.4 L1445.7,944.1 L1447.6,944.7 L1449.5,945.4 L1451.4,946.0 L1453.3,946.7 L1455.2,947.4 L1457.1,948.0 L1459.0,948.7 L1460.9,949.3 L1462.8,950.0 L1464.6,950.6 L1466.5,951.3 L1468.4,951.9 L1470.3,952.5 L1472.2,953.2 L1474.1,953.8 L1476.0,954.4 L1477.9,955.0 L1479.8,955.6 L1481.7,956.3 L1483.6,956.9 L1485.5,957.5 L1487.4,958.1 L1489.4,958.7 L1491.3,959.2 L1493.2,959.8 L1495.1,960.4 L1497.0,961.0 L1498.9,961.6 L1500.8,962.1 L1502.8,962.7 L1504.7,963.2 L1506.6,963.8 L1508.5,964.3 L1510.5,964.9 L1512.4,965.4 L1514.3,966.0 L1516.3,966.5 L1518.2,967.0 L1520.1,967.5 L1522.0,968.1 L1524.0,968.6 L1525.9,969.1 L1527.9,969.6 L1529.8,970.1 L1531.7,970.6 L1533.7,971.1 L1535.6,971.6 L1537.6,972.1 L1539.5,972.5 L1541.5,973.0 L1543.4,973.5 L1545.3,973.9 L1547.3,974.4 L1549.2,974.9 L1551.2,975.3 L1553.2,975.8 L1555.1,976.2 L1557.1,976.6 L1559.0,977.1 L1561.0,977.5 L1562.9,977.9 L1564.9,978.4 L1566.8,978.8 L1568.8,979.2 L1570.8,979.6 L1572.7,980.0 L1574.7,980.4 L1576.7,980.8 L1578.6,981.2 L1580.6,981.6 L1582.6,982.0 L1584.5,982.3 L1586.5,982.7 L1588.5,983.1 L1590.4,983.4 L1592.4,983.8 L1594.4,984.1 L1596.3,984.5 L1598.3,984.8 L1600.3,985.2 L1602.3,985.5 L1604.2,985.9 L1606.2,986.2 L1608.2,986.5 L1610.2,986.8 L1612.1,987.1 L1614.1,987.4 L1616.1,987.7 L1618.1,988.0 L1620.1,988.3 L1622.0,988.6 L1624.0,988.9 L1626.0,989.2 L1628.0,989.5 L1630.0,989.8 L1632.0,990.0 L1633.9,990.3 L1635.9,990.5 L1637.9,990.8 L1639.9,991.1 L1641.9,991.3 L1643.9,991.5 L1645.9,991.8 L1647.8,992.0 L1649.8,992.2 L1651.8,992.5 L1653.8,992.7 L1655.8,992.9 L1657.8,993.1 L1659.8,993.3 L1661.8,993.5 L1663.7,993.7 L1665.7,993.9 L1667.7,994.1 L1669.7,994.3 L1671.7,994.5 L1673.7,994.6 L1675.7,994.8 L1677.7,995.0 L1679.7,995.1 L1681.7,995.3 L1683.7,995.4 L1685.7,995.6 L1687.7,995.7 L1689.6,995.9 L1691.6,996.0 L1693.6,996.1 L1695.6,996.3 L1697.6,996.4 L1699.6,996.5 L1701.6,996.6 L1703.6,996.8 L1705.6,996.9 L1707.6,997.0 L1709.6,997.1 L1711.6,997.2 L1713.6,997.3 L1715.6,997.4 L1717.6,997.5 L1719.6,997.6 L1721.6,997.6 L1723.6,997.7 L1725.6,997.8 L1727.6,997.9 L1729.6,998.0 L1731.6,998.0 L1733.6,998.1 L1735.6,998.1 L1737.6,998.2 L1739.6,998.3 L1741.6,998.3 L1743.6,998.4 L1745.6,998.4 L1747.6,998.5 L1749.6,998.5 L1751.6,998.6 L1753.6,998.6 L1755.6,998.6 L1757.6,998.7 L1759.6,998.7 L1761.6,998.7 L1763.6,998.8 L1765.6,998.8 L1767.6,998.8 L1769.6,998.8 L1771.6,998.8 L1773.6,998.9 L1775.6,998.9 L1777.6,998.9 L1779.6,998.9 L1781.6,998.9 L1783.6,998.9 L1785.6,998.9 L1787.6,998.9 L1789.6,998.9 L1791.6,998.9 L1793.6,998.9 L1795.6,998.9 L1797.6,998.9 L1799.7,998.9 L1801.7,998.9 L1803.7,998.9 L1805.7,998.9 L1807.7,998.9 L1809.7,998.8 L1811.7,998.8 L1813.7,998.8 L1815.7,998.8 L1817.7,998.8 L1819.7,998.8 L1821.7,998.7 L1823.7,998.7 L1825.7,998.7 L1827.7,998.7 L1829.7,998.6 L1831.7,998.6 L1833.7,998.6 L1835.7,998.6 L1837.7,998.5 L1839.7,998.5 L1841.8,998.5 L1843.8,998.4 L1845.8,998.4 L1847.8,998.4 L1849.8,998.4 L1851.8,998.3 L1853.8,998.3 L1855.8,998.3 L1857.8,998.2 L1859.8,998.2 L1861.8,998.2 L1863.8,998.1 L1865.8,998.1 L1867.8,998.1 L1869.8,998.0 L1871.8,998.0 L1873.8,998.0 L1875.8,997.9 L1877.9,997.9 L1879.9,997.9 L1881.9,997.8 L1883.9,997.8 L1885.9,997.8 L1887.9,997.7 L1889.9,997.7 L1891.9,997.7 L1893.9,997.6 L1895.9,997.6 L1897.9,997.6 L1899.9,997.6 L1901.9,997.5 L1903.9,997.5 L1905.9,997.5 L1907.9,997.5 L1909.9,997.4 L1911.9,997.4 L1913.9,997.4 L1915.9,997.4 L1917.9,997.3 L1919.9,997.3 L1922.0,997.3 L1924.0,997.3 L1926.0,997.3 L1928.0,997.3 L1930.0,997.2 L1932.0,997.2 L1934.0,997.2 L1936.0,997.2 L1938.0,997.2 L1940.0,997.2 L1942.0,997.2 L1944.0,997.2 L1946.0,997.2 L1948.0,997.2 L1950.0,997.2 L1952.0,997.2 L1954.0,997.2 L1956.0,997.2 L1958.0,997.2 L1960.0,997.2 L1962.0,997.2 L1964.0,997.3 L1966.0,997.3 L1968.0,997.3 L1970.0,997.3 L1972.0,997.3 L1974.0,997.4 L1976.0,997.4 L1978.0,997.4 L1980.0,997.5 L1982.0,997.5 L1984.0,997.5 L1986.0,997.6 L1988.0,997.6 L1990.0,997.7 L1992.0,997.7 L1994.0,997.8 L1996.0,997.8 L1998.0,997.9 L2000.0,997.9 L2002.0,998.0 L2004.0,998.1 L2006.0,998.1 L2007.9,998.2 L2009.9,998.3 L2011.9,998.3 L2013.9,998.4 L2015.9,998.5 L2017.9,998.6 L2019.9,998.7 L2021.9,998.8" fill="none" stroke="#00f" stroke-width="5.6" stroke-linejoin="round"/>
<path d="M286,39.25 H2167.5 M286,1329.45 H2165.5" stroke="#000" stroke-width="3.95" fill="none"/>
<path d="M287.85,37.3 V1333.6 M2163.75,37.3 V1333.2" stroke="#000" stroke-width="3.8" fill="none"/>
<path d="M345.95,1329.4 V1307.6000000000001 M634.45,1329.4 V1307.6000000000001 M923.00,1329.4 V1307.6000000000001 M1211.80,1329.4 V1307.6000000000001 M1500.20,1329.4 V1307.6000000000001 M1788.95,1329.4 V1307.6000000000001 M2075.45,1329.4 V1307.6000000000001 M287.8,1157.13 H311.8 M287.8,985.16 H311.8 M287.8,813.19 H311.8 M287.8,641.22 H311.8 M287.8,469.25 H311.8 M287.8,297.28 H311.8 M287.8,125.31 H311.8" stroke="#000" stroke-width="3.7" fill="none"/>
<text class="ls er" x="345.9" y="1408.8" font-size="63.5" text-anchor="middle">−30</text>
<text class="ls er" x="634.5" y="1408.8" font-size="63.5" text-anchor="middle">−20</text>
<text class="ls er" x="923.0" y="1408.8" font-size="63.5" text-anchor="middle">−10</text>
<text class="ls er" x="1211.8" y="1408.8" font-size="63.5" text-anchor="middle">0</text>
<text class="ls er" x="1500.2" y="1408.8" font-size="63.5" text-anchor="middle">10</text>
<text class="ls er" x="1789.0" y="1408.8" font-size="63.5" text-anchor="middle">20</text>
<text class="ls er" x="2075.4" y="1408.8" font-size="63.5" text-anchor="middle">30</text>
<text class="ls er" x="138.0 169.0 200.0 231.0" y="1352.3" font-size="63.5">0.02</text>
<text class="ls er" x="138.0 169.0 200.0 231.0" y="1180.3" font-size="63.5">0.04</text>
<text class="ls er" x="138.0 169.0 200.0 231.0" y="1008.4" font-size="63.5">0.06</text>
<text class="ls er" x="138.0 169.0 200.0 231.0" y="836.4" font-size="63.5">0.08</text>
<text class="ls er" x="138.0 169.0 200.0 231.0" y="664.4" font-size="63.5">0.10</text>
<text class="ls er" x="138.0 169.0 200.0 231.0" y="492.4" font-size="63.5">0.12</text>
<text class="ls er" x="138.0 169.0 200.0 231.0" y="320.5" font-size="63.5">0.14</text>
<text class="ls er" x="138.0 169.0 200.0 231.0" y="148.5" font-size="63.5">0.16</text>
<text class="cj er2" transform="scale(1.1562962962962962,1)" x="776.52 803.52 830.52 857.52 884.52 911.52 938.52 965.52 992.52 1019.52 1046.52 1073.52 1100.52 1127.52 1154.52 1181.52 1208.52 1235.52 1262.52 1289.52 1316.52" y="1495.5" font-size="54">distance from GB (nm)</text>
<text class="cj er2" transform="translate(79.4,1121.8) rotate(-90) scale(1.1562962962962962,1)" x="-13.50 13.50 40.50 67.50 94.50 121.50 148.50 175.50 202.50 229.50 256.50 283.50 310.50 337.50 364.50 391.50 418.50 445.50 472.50 499.50 526.50 553.50 580.50 607.50 634.50 661.50 682.16 715.50 742.50" y="0" font-size="54">relative concentration (wt.%)</text>
<rect x="327.3" y="76.2" width="1336.2" height="119.8" fill="none" stroke="#000" stroke-width="2.2"/>
<rect x="329.2" y="236.9" width="727.0999999999999" height="119.6" fill="none" stroke="#000" stroke-width="2.2"/>
<circle cx="381.7" cy="106.8" r="8" fill="#00bfff"/>
<circle cx="381.7" cy="163.3" r="8" fill="#e60000"/>
<path d="M334.2,268.5 H439.9" stroke="#00f" stroke-width="5.6"/>
<path d="M334.2,324.8 H439.9" stroke="#f00" stroke-width="5.6"/>
<text class="cj er2" transform="scale(1.1507900677200904,1)" x="397.86 420.01 442.16 464.31 486.46 508.61 530.76 552.91 575.06 597.21 619.36 641.51 663.66 685.81 707.96 730.11 752.26 774.41 796.56 818.71 840.86 863.01 885.16 907.31 929.46 951.61 973.76 995.91 1018.06 1040.21 1062.36 1084.51 1106.66 1128.81 1150.96 1173.11 1195.26 1217.41 1239.56 1261.71 1278.66 1302.02" y="125.2" font-size="44.3">Experimental data of Al from Patki et al.,</text>
<text class="ls er2" x="1553.80 1579.28 1604.78 1630.26" y="125.2" font-size="51.5">2023</text>
<text class="cj er2" transform="scale(1.1507900677200904,1)" x="397.86 420.01 442.16 464.31 486.46 508.61 530.76 552.91 575.06 597.21 619.36 641.51 663.66 685.81 707.96 730.11 752.26 774.41 796.56 818.71 840.86 863.01 885.16 907.31 929.46 951.61 973.76 995.91 1018.06 1040.21 1062.36 1084.51 1106.66 1128.81 1150.96 1173.11 1195.26 1217.41 1239.56 1261.71 1278.66 1302.02" y="180.7" font-size="44.3">Experimental data of Cr from Patki et al.,</text>
<text class="ls er2" x="1553.80 1579.28 1604.78 1630.26" y="180.7" font-size="51.5">2023</text>
<text class="cj er2" transform="scale(1.1507900677200904,1)" x="401.68 423.83 445.98 468.13 490.28 512.43 534.58 556.73 578.88 601.03 623.18 645.33 667.48 689.63 711.78 733.93 756.08 778.23 800.38 822.53 844.68 866.83 888.98" y="285.7" font-size="44.3">Simulated profile of Al</text>
<text class="cj er2" transform="scale(1.1507900677200904,1)" x="401.68 423.83 445.98 468.13 490.28 512.43 534.58 556.73 578.88 601.03 623.18 645.33 667.48 689.63 711.78 733.93 756.08 778.23 800.38 822.53 844.68 866.83 888.98" y="341.3" font-size="44.3">Simulated profile of Cr</text>
</svg></body></html>
